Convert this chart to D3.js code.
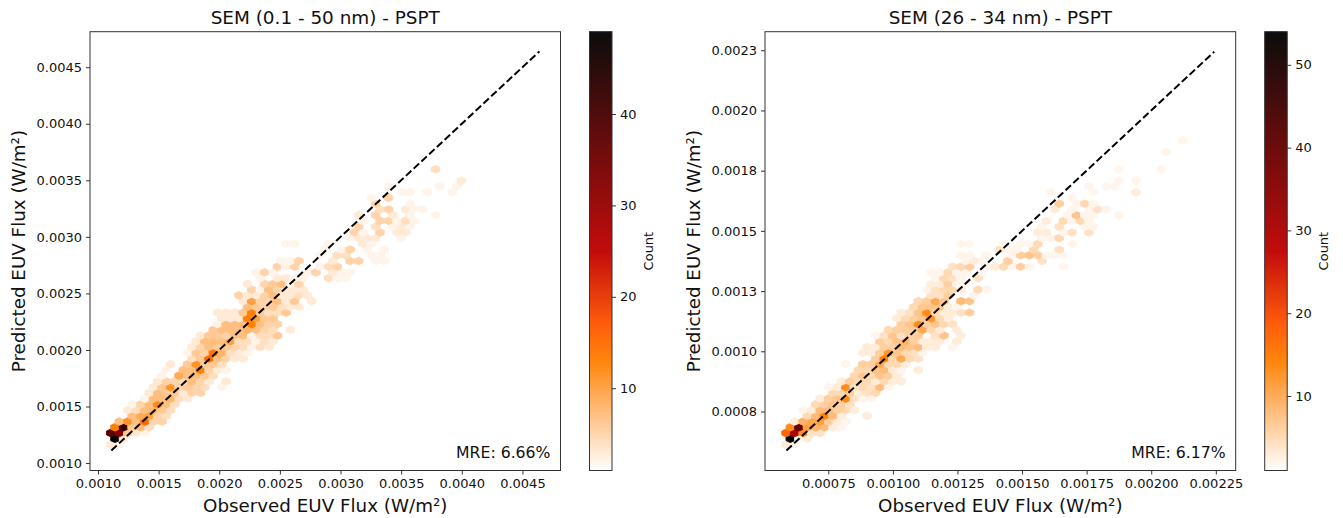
<!DOCTYPE html>
<html>
<head>
<meta charset="utf-8">
<script src="https://d3js.org/d3.v7.min.js"></script>
<style>
html,body{margin:0;padding:0;background:#fff;}
svg{display:block;}
text{font-family:"DejaVu Sans",sans-serif;fill:#111;}
.axis text{font-size:13px;font-family:"DejaVu Sans",sans-serif;fill:#111;}
.axis path,.axis line{stroke:#333;stroke-width:1;}
</style>
</head>
<body>
<svg id="chart" width="1343" height="518"></svg>
<script>
// Left panel: SEM (0.1 - 50 nm)
const leftTitle = "SEM (0.1 - 50 nm) - PSPT";
const leftMRE = "MRE: 6.66%";
const leftDomain = [0.000934, 0.004814];
const leftLine = [0.00111, 0.00464];
const leftXTicks = [0.0010,0.0015,0.0020,0.0025,0.0030,0.0035,0.0040,0.0045];
const leftYTicks = [0.0010,0.0015,0.0020,0.0025,0.0030,0.0035,0.0040,0.0045];
const leftXLabels = ["0.0010","0.0015","0.0020","0.0025","0.0030","0.0035","0.0040","0.0045"];
const leftYLabels = leftXLabels;
const leftCountRange = [1, 49];
const leftCountTicks = [10,20,30,40];
const leftBinOrigin = [0.001140, 0.001215];   // observed, predicted value of first bin centre
const leftBinStep = [7.05e-5, 5.07e-5];       // observed bin width, predicted row step
// each row: row number, first column, counts per column
const leftRows = [
[-1,0,[3,2]],
[0,0,[49,3]],
[1,0,[38,32,6,3,2]],
[2,0,[13,42,6,8,4]],
[3,1,[7,11,7,15,5,5]],
[4,2,[7,9,10,5,4]],
[5,2,[3,4,7,8,6,4]],
[6,2,[2,5,7,12,7,4]],
[7,4,[2,7,7,8,4,3]],
[8,4,[3,7,6,6,3,5,5]],
[9,5,[3,6,11,5,6,5,4,0,2]],
[10,5,[3,5,5,4,7,5,3,0,3]],
[11,6,[2,0,9,7,7,6,4]],
[12,6,[2,0,7,7,13,5,3,2]],
[13,7,[3,0,6,11,6,6,4]],
[14,9,[4,6,15,7,5,3,3]],
[15,9,[2,6,5,14,8,4,3,2]],
[16,9,[3,5,7,6,6,5,4,2,4,3]],
[17,10,[3,7,7,7,10,4,4,2,4,3]],
[18,10,[3,6,6,5,7,7,2,4,4,6]],
[19,12,[6,7,7,7,8,7,5,4,0,3]],
[20,12,[2,7,7,7,13,7,5,5]],
[21,13,[3,3,3,13,10,6,6]],
[22,12,[3,3,3,6,13,6,4,4,6]],
[23,16,[7,6,5,6,4,3,3]],
[24,15,[3,10,5,5,7,3,6,0,3]],
[25,15,[5,3,3,5,7,3,3,4,3]],
[26,16,[5,2,7,5,3,3,3]],
[27,16,[3,0,5,6,7,2,5]],
[28,17,[2,0,3,3,2,2,0,0,4,2,2]],
[29,17,[2,5,2,0,0,0,2,5,0,3,2,2]],
[30,19,[5,2,5,0,0,2,4,5]],
[31,20,[2,2,5,0,0,0,3,0,5,5,0,2,2]],
[32,24,[2,0,4,4,0,0,2,2]],
[33,25,[2,0,2,5,0,2,0,2]],
[34,20,[2,2,0,0,0,2,0,0,0,3,2]],
[35,28,[2,3,3,3,0,0,2]],
[36,28,[5,2,0,5,0,3,3]],
[37,29,[5,0,4,0,2,3,2]],
[38,29,[2,0,5,5,2,4,2]],
[39,29,[3,0,5,0,3,0,2,0,0,2]],
[40,31,[4,5,0,3,2,2]],
[41,31,[5,0,0,0,2]],
[42,30,[2,0,5]],
[43,34,[2,2,0,2,0,0,2]],
[44,32,[2,0,0,0,0,0,2,0,2]],
[45,41,[3]],
[47,38,[4]]
];

// Right panel: SEM (26 - 34 nm)
const rightTitle = "SEM (26 - 34 nm) - PSPT";
const rightMRE = "MRE: 6.17%";
const rightDomain = [0.000505, 0.002327];
const rightLine = [0.000588, 0.002244];
const rightXTicks = [0.00075,0.00100,0.00125,0.00150,0.00175,0.00200,0.00225];
const rightYTicks = [0.00075,0.00100,0.00125,0.00150,0.00175,0.00200,0.00225];
const rightXLabels = ["0.00075","0.00100","0.00125","0.00150","0.00175","0.00200","0.00225"];
const rightYLabels = ["0.0008","0.0010","0.0013","0.0015","0.0018","0.0020","0.0023"];
const rightCountRange = [1, 54];
const rightCountTicks = [10,20,30,40,50];
const rightBinOrigin = [0.000603, 0.000637];
const rightBinStep = [3.304e-5, 2.38e-5];
const rightRows = [
[-1,0,[3,2]],
[0,0,[54,2,3]],
[1,0,[17,30,13,4,4]],
[2,0,[13,40,11,9,8,3,2]],
[3,1,[3,9,10,11,6,3,2]],
[4,2,[5,8,14,8,3,0,0,3]],
[5,2,[2,3,8,8,6,5,3]],
[6,3,[5,6,7,6,4]],
[7,4,[3,6,7,13,4,2,2]],
[8,5,[5,5,6,3,4,5]],
[9,5,[2,3,13,4,5,4,8,2]],
[10,6,[3,6,5,5,3,5,3,3]],
[11,8,[5,7,5,7,6,3]],
[12,8,[5,5,7,8,3,2,0,3]],
[13,7,[2,0,6,6,10,5,5,3]],
[14,10,[6,14,5,10,5,4]],
[15,9,[3,3,6,12,7,5,4,2]],
[16,9,[3,3,6,6,8,7,8,3,3,0,2]],
[17,11,[6,5,7,9,6,3,3,3,0,3]],
[18,10,[2,4,7,4,6,6,0,4,7,0,3]],
[19,12,[5,6,6,6,10,5,3,0,3]],
[20,13,[6,7,13,6,7,5,4]],
[21,13,[3,5,6,7,12,5,3]],
[22,13,[3,4,7,13,5,3,3,4,6]],
[23,15,[5,7,7,7,3,2]],
[24,15,[5,6,10,7,0,8,7]],
[25,17,[4,4,6,0,0,2]],
[26,16,[2,4,5,5,3,0,5,2]],
[27,17,[3,3,6,2,2]],
[28,17,[2,5,4,2,0,4]],
[29,17,[2,2,5,2,2,0,2]],
[30,19,[4,5,6,0,2,3,5,2,6,2,0,0,0,2]],
[31,21,[2,3,2,0,0,6,0,0,0,4]],
[32,20,[2,2,0,2,0,0,2,6,7,6,2,2,2]],
[33,25,[4,2,2,0,5,0,0,4]],
[34,20,[2,2,0,0,0,2,0,2,2,5,0,0,0,2]],
[35,30,[2,2,5]],
[36,29,[3,3,0,2,4,0,4]],
[37,30,[2,0,4,0,0,2,2]],
[38,30,[3,0,5,2,5,2]],
[39,33,[2,7,2,2,0,0,2]],
[40,31,[3,0,2,0,2,4,2]],
[41,32,[6,0,2,5,2]],
[42,33,[2]],
[43,31,[2,0,0,0,0,2,0,0,0,0,3]],
[44,35,[2,0,2,2]],
[45,39,[2,0,2]],
[47,39,[2,0,0,0,0,2]],
[50,44,[2]],
[52,46,[2]]
];

const xAxisTitle = "Observed EUV Flux (W/m²)";
const yAxisTitle = "Predicted EUV Flux (W/m²)";
const colorbarTitle = "Count";

const svg = d3.select("#chart");

// matplotlib gist_heat_r
function gistHeatR(t){
  const x = 1 - t, c = v => Math.round(255*Math.max(0,Math.min(1,v)));
  return `rgb(${c(1.5*x)},${c(2*x-1)},${c(4*x-3)})`;
}

function panel(p){
  const top = 31.7, bottom = 470.5;
  const x = d3.scaleLinear().domain(p.domain).range([p.left, p.right]);
  const y = d3.scaleLinear().domain(p.domain).range([bottom, top]);
  const g = svg.append("g");

  // bins
  const [ox, oy] = p.origin, [sx, sr] = p.step;
  const sy = 2*sr;
  const hexX = [.5,.5,0,-.5,-.5,0], hexY = [-.5,.5,1,.5,-.5,-1].map(v=>v/3);
  const cells = [];
  p.rows.forEach(([j,k0,counts])=>{
    counts.forEach((n,i)=>{
      if(n>0){
        const k = k0+i, odd = ((j%2)+2)%2===1;
        cells.push({obs: ox+(k-(odd?0.5:0))*sx, pred: oy+j*sr, n});
      }
    });
  });
  const color = d3.scaleLinear().domain(p.countRange).range([0,1]);
  const line = d3.line();
  g.append("g").selectAll("path").data(cells).join("path")
    .attr("d", d=>line(hexX.map((hx,i)=>[x(d.obs+hx*sx), y(d.pred+hexY[i]*sy)]))+"Z")
    .attr("fill", d=>gistHeatR(color(d.n)))
    .attr("stroke", d=>gistHeatR(color(d.n)))
    .attr("stroke-width",0.9);

  // identity line
  g.append("line")
    .attr("x1",x(p.line[0])).attr("y1",y(p.line[0]))
    .attr("x2",x(p.line[1])).attr("y2",y(p.line[1]))
    .attr("stroke","#000").attr("stroke-width",2)
    .attr("stroke-dasharray","7.4,3.2");

  // axes
  const ax = d3.axisBottom(x).tickValues(p.xTicks).tickFormat((d,i)=>p.xLabels[i]).tickSizeOuter(0).tickSize(4).tickPadding(4);
  const ay = d3.axisLeft(y).tickValues(p.yTicks).tickFormat((d,i)=>p.yLabels[i]).tickSizeOuter(0).tickSize(4).tickPadding(4);
  g.append("g").attr("class","axis").attr("transform",`translate(0,${bottom})`).call(ax).select(".domain").remove();
  g.append("g").attr("class","axis").attr("transform",`translate(${p.left},0)`).call(ay).select(".domain").remove();
  g.append("rect").attr("x",p.left).attr("y",top).attr("width",p.right-p.left).attr("height",bottom-top)
    .attr("fill","none").attr("stroke","#333").attr("stroke-width",1);

  const cx = (p.left+p.right)/2;
  g.append("text").attr("x",cx).attr("y",24).attr("text-anchor","middle").attr("font-size",18.4).text(p.title);
  g.append("text").attr("x",cx).attr("y",512).attr("text-anchor","middle").attr("font-size",18.3).text(xAxisTitle);
  g.append("text").attr("transform",`translate(${p.left-65},${(top+bottom)/2}) rotate(-90)`).attr("text-anchor","middle").attr("font-size",18.3).text(yAxisTitle);
  g.append("text").attr("x",p.right-10).attr("y",458).attr("text-anchor","end").attr("font-size",15.7).text(p.mre);

  // colour bar
  const cL = p.right+29, cW = 22.5;
  const cs = d3.scaleLinear().domain(p.countRange).range([bottom, top]);
  const steps = d3.range(bottom, top, -1);
  g.append("g").selectAll("rect").data(steps).join("rect")
    .attr("x",cL).attr("width",cW)
    .attr("y",d=>d-1).attr("height",1.4)
    .attr("fill",d=>gistHeatR(color(cs.invert(d-0.5))));
  g.append("rect").attr("x",cL).attr("y",top).attr("width",cW).attr("height",bottom-top)
    .attr("fill","none").attr("stroke","#333").attr("stroke-width",1);
  const ac = d3.axisRight(cs).tickValues(p.countTicks).tickSizeOuter(0).tickSize(4).tickPadding(4);
  g.append("g").attr("class","axis").attr("transform",`translate(${cL+cW},0)`).call(ac).select(".domain").remove();
  g.append("text").attr("transform",`translate(${cL+cW+41},${(top+bottom)/2}) rotate(-90)`).attr("text-anchor","middle").attr("font-size",13).text(colorbarTitle);
}

panel({left:90,right:560.5,domain:leftDomain,line:leftLine,origin:leftBinOrigin,step:leftBinStep,rows:leftRows,
  xTicks:leftXTicks,yTicks:leftYTicks,xLabels:leftXLabels,yLabels:leftYLabels,countRange:leftCountRange,countTicks:leftCountTicks,title:leftTitle,mre:leftMRE});
panel({left:765,right:1235.7,domain:rightDomain,line:rightLine,origin:rightBinOrigin,step:rightBinStep,rows:rightRows,
  xTicks:rightXTicks,yTicks:rightYTicks,xLabels:rightXLabels,yLabels:rightYLabels,countRange:rightCountRange,countTicks:rightCountTicks,title:rightTitle,mre:rightMRE});
</script>
</body>
</html>
